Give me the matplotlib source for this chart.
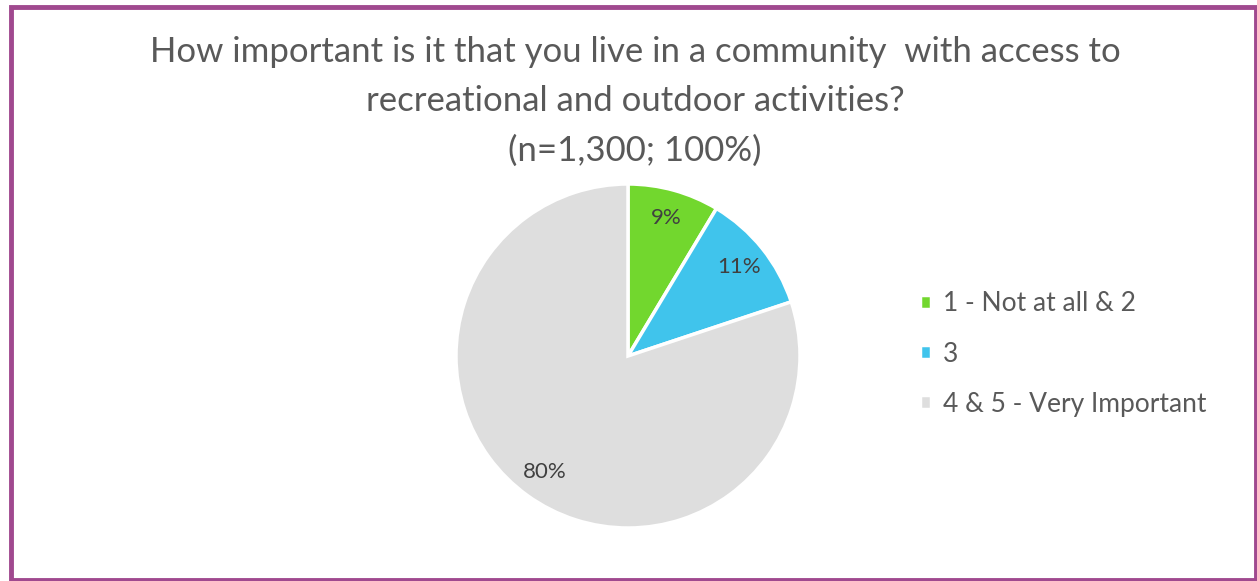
import matplotlib
matplotlib.use("Agg")
from matplotlib import pyplot as plt
from matplotlib.patches import Rectangle

# data
labels = ["1 - Not at all & 2", "3", "4 & 5 - Very Important"]
values = [8.6, 11.3, 80.1]
colors = ["#72D72E", "#40C4EC", "#DEDEDE"]
title_lines = [
    "How important is it that you live in a community  with access to",
    "recreational and outdoor activities?",
    "(n=1,300; 100%)",
]

plt.rcParams["font.family"] = ["Lato", "DejaVu Sans"]

W, H = 1257, 581
fig = plt.figure(figsize=(W / 100, H / 100), dpi=100)
fig.patch.set_facecolor("white")

# purple frame
fig.add_artist(Rectangle((10.5 / W, 1.5 / H), (1255.5 - 10.5) / W, (574.0 - 1.5) / H,
                         transform=fig.transFigure, fill=False,
                         edgecolor="#A0498F", linewidth=3.5))

# title
title_y = [52, 101, 151]
for line, y in zip(title_lines, title_y):
    fig.text(635 / W, 1 - y / H, line, ha="center", va="center",
             fontsize=25, color="#595959")

# pie
cx, cy, r = 628, 356, 172
ax = fig.add_axes([(cx - r) / W, (H - cy - r) / H, 2 * r / W, 2 * r / H])
wedges, texts, autotexts = ax.pie(
    values, colors=colors, startangle=90, counterclock=False,
    autopct="%.0f%%", pctdistance=0.83,
    wedgeprops={"edgecolor": "white", "linewidth": 2.5},
    textprops={"fontsize": 16, "color": "#404040"},
)
ax.set_xlim(-1, 1)
ax.set_ylim(-1, 1)
ax.set_aspect("equal")
ax.axis("off")

# legend
fig.legend(wedges, labels, loc="center left", bbox_to_anchor=(920 / W, 1 - 354 / H),
           frameon=False, fontsize=19, labelcolor="#595959",
           borderpad=0, borderaxespad=0,
           handlelength=0.42, handleheight=0.42, handletextpad=0.45,
           labelspacing=0.95)

fig.savefig("out.png", dpi=100)
